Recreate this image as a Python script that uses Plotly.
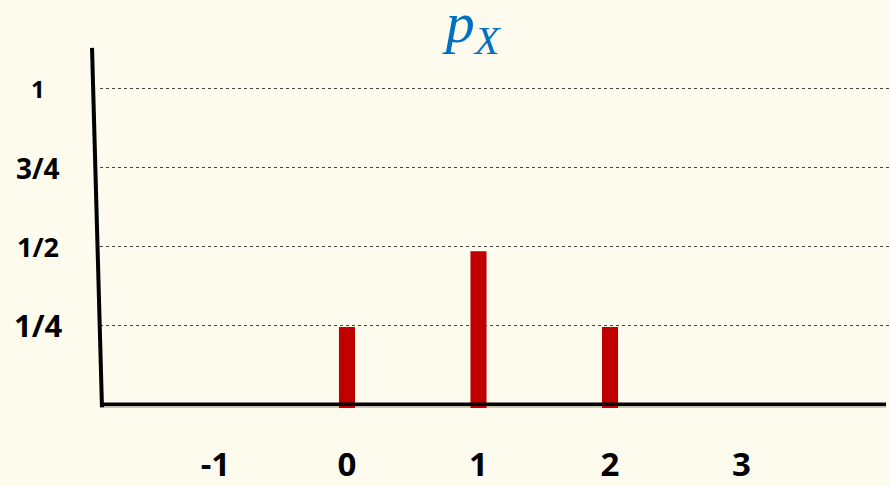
import plotly.graph_objects as go

# Data
x_values = [0, 1, 2]
probabilities = [0.245, 0.485, 0.245]
x_tick_vals = [-1, 0, 1, 2, 3]
x_tick_text = ["-1", "0", "1", "2", "3"]
y_tick_vals = [0.25, 0.5, 0.75, 1.0]
y_tick_text = ["1/4", "1/2", "3/4", "1"]
y_label_sizes = [31, 27, 28, 24]

BG = "#fdfaee"
RED = "#c00000"
BLUE = "#0070c0"

fig = go.Figure()
fig.add_trace(go.Bar(
    x=x_values, y=[p + 0.012 for p in probabilities], base=-0.012,
    width=0.122, marker=dict(color=RED, line=dict(width=0)),
    hoverinfo="skip",
))

# Y labels as annotations (individual sizes as in the slide)
for v, t, s in zip(y_tick_vals, y_tick_text, y_label_sizes):
    fig.add_annotation(
        x=-0.078, xref="paper", y=v, yref="y", text=t, showarrow=False,
        font=dict(family="Open Sans", size=s, color="black", weight="bold"),
        xanchor="center", yanchor="middle",
    )

# Hand-drawn style axes
fig.add_shape(type="line", xref="paper", yref="y", x0=0, x1=0.995, y0=-0.006, y1=-0.006,
              line=dict(color="rgba(0,0,0,0.25)", width=3), layer="below")
fig.add_shape(type="line", xref="paper", yref="y", x0=0, x1=0.995, y0=0, y1=0,
              line=dict(color="black", width=3.5))
fig.add_shape(type="line", xref="paper", yref="y", x0=-0.0101, x1=0.0025, y0=1.129, y1=-0.0094,
              line=dict(color="black", width=4))

fig.update_layout(
    width=890, height=486,
    margin=dict(l=100, r=0, t=40, b=41),
    paper_bgcolor=BG, plot_bgcolor=BG,
    showlegend=False,
    title=dict(
        text="<i>p<sub>X</sub></i>",
        x=0.531, xanchor="center", y=0.955, yanchor="middle",
        font=dict(family="Liberation Serif", size=58, color=BLUE),
    ),
    xaxis=dict(
        range=[-1.878, 4.129], tickvals=x_tick_vals, ticktext=x_tick_text,
        showgrid=False, zeroline=False, showline=False, ticks="",
        tickfont=dict(family="Open Sans", size=33, color="black", weight="bold"),
    ),
    yaxis=dict(
        range=[-0.1195, 1.154], tickvals=y_tick_vals, showticklabels=False,
        showgrid=True, gridcolor="#444", gridwidth=1, griddash="dot",
        zeroline=False, showline=False, ticks="",
    ),
)

fig.write_html(
    "out.html",
    config={"displayModeBar": False},
    post_script="document.body.style.margin='0';document.body.style.background='" + BG + "';",
)
